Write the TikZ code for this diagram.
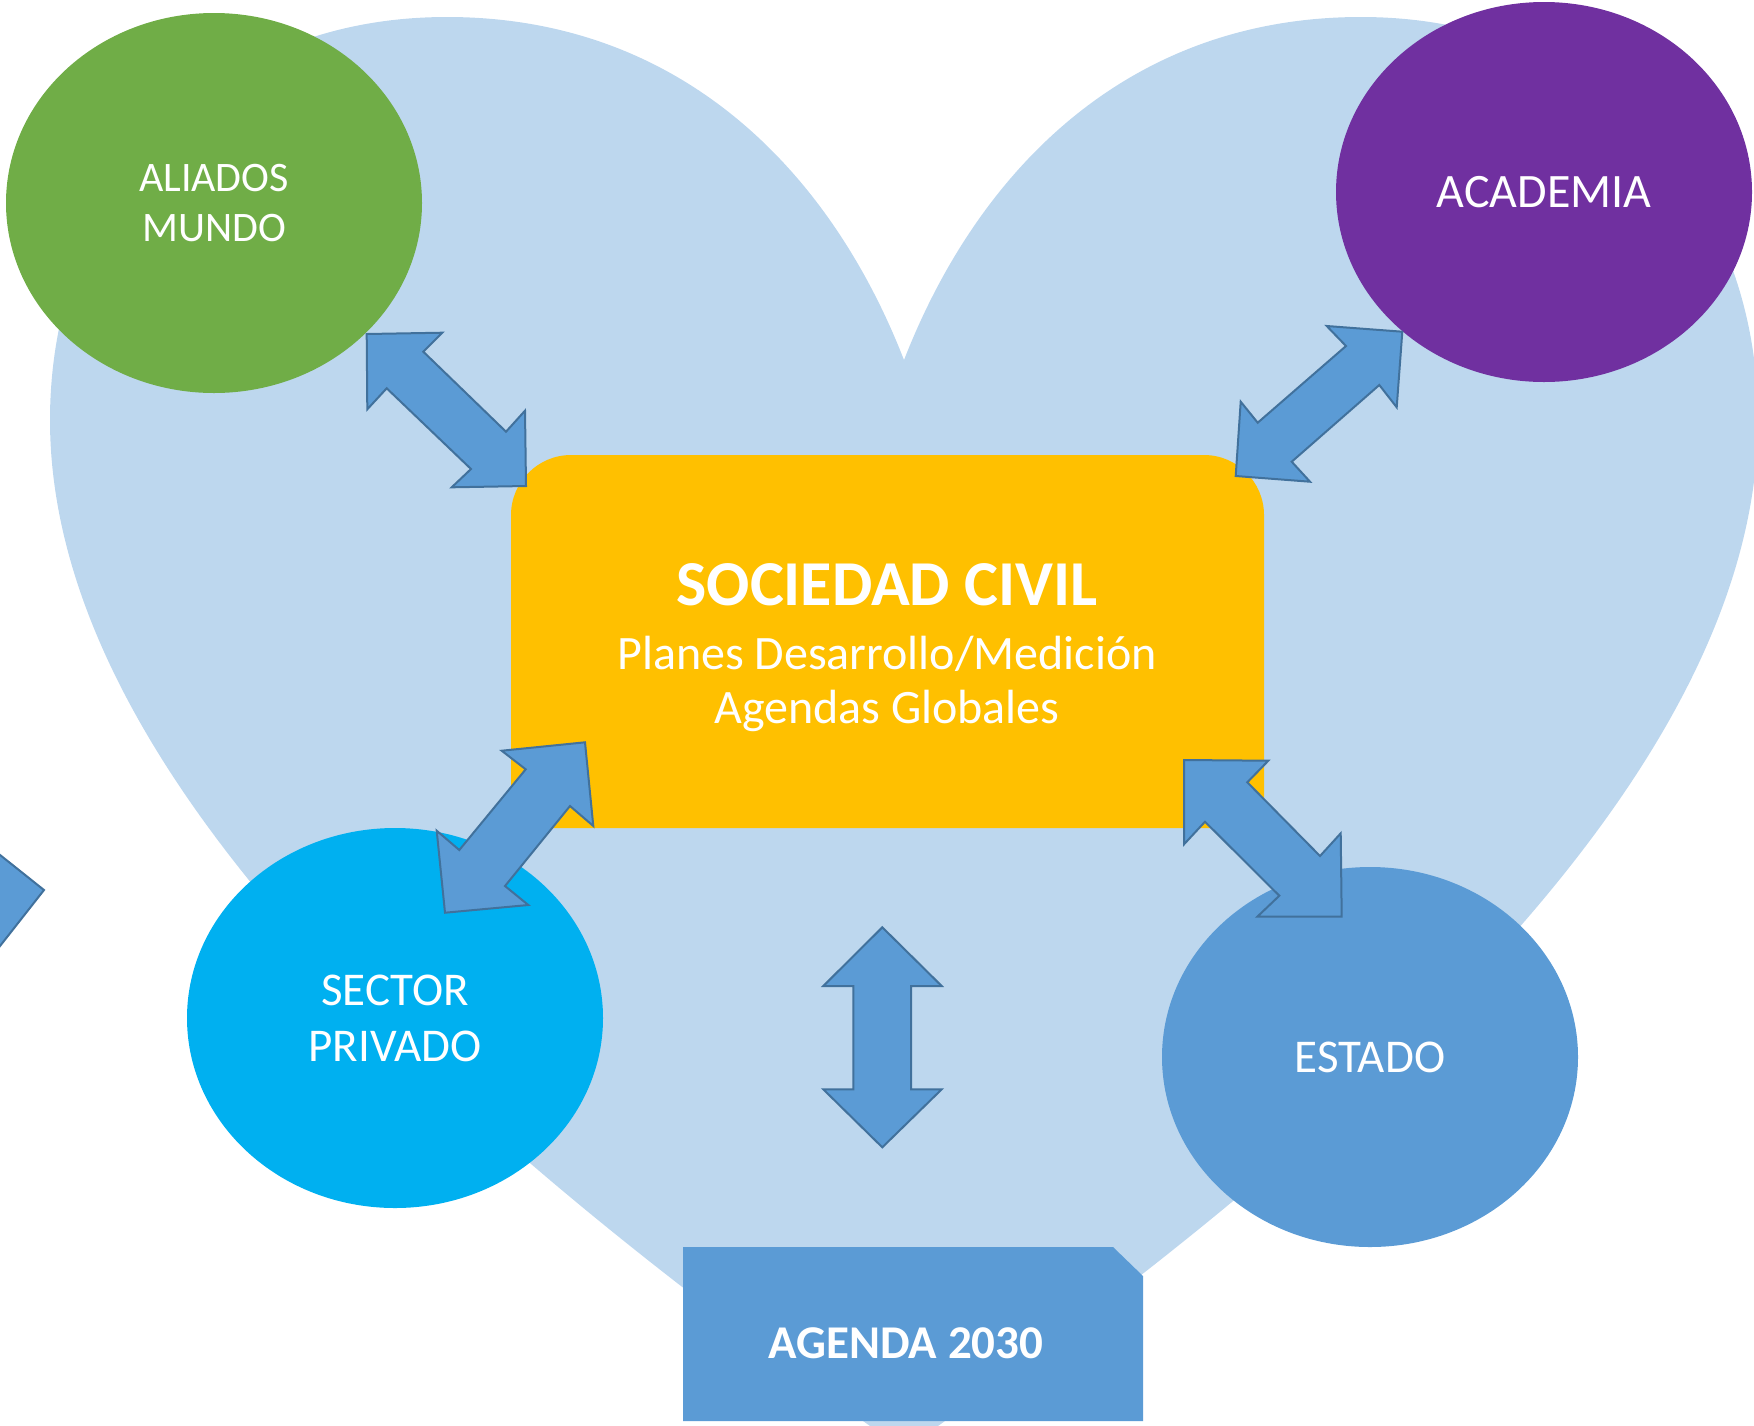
\documentclass[tikz,border=0pt]{standalone}
\usepackage{fontspec}
\setmainfont{Carlito}
\usetikzlibrary{shapes.geometric}
\definecolor{heartc}{RGB}{189,215,238}
\definecolor{greenc}{RGB}{112,173,71}
\definecolor{purplec}{RGB}{112,48,160}
\definecolor{cyanc}{RGB}{0,176,240}
\definecolor{bluec}{RGB}{91,155,213}
\definecolor{yellowc}{RGB}{255,192,0}
\definecolor{borderc}{RGB}{65,113,156}
\tikzset{
  circ/.style={ellipse, minimum width=208pt, minimum height=190pt, inner sep=0pt, text=white, align=center},
  blockarrow/.style={fill=bluec, draw=borderc, line width=1pt, line join=miter},
  lbl/.style={text=white, align=center, inner sep=0pt},
}
\begin{document}
\begin{tikzpicture}[x=0.5pt, y=-0.5pt]
\useasboundingbox (0,0) rectangle (1754,1425);
\clip (0,0) rectangle (1754,1425);
% heart
\fill[heartc] (904,360) .. controls (830,170) and (680,17) .. (447,17)
  .. controls (200,17) and (50,200) .. (50,420)
  .. controls (50,800) and (520,1180) .. (904,1450)
  .. controls (1288,1180) and (1758,800) .. (1758,420)
  .. controls (1758,200) and (1608,17) .. (1361,17)
  .. controls (1128,17) and (978,170) .. cycle;
% ellipses
\node[circ, fill=greenc, font=\fontsize{21}{25}\selectfont] (aliados) at (214,203) {ALIADOS\\MUNDO};
\node[circ, fill=purplec, font=\fontsize{24}{28}\selectfont] (academia) at (1544,192) {ACADEMIA};
\node[circ, fill=cyanc, font=\fontsize{23.5}{28}\selectfont] (privado) at (395,1018) {SECTOR\\PRIVADO};
\node[circ, fill=bluec, font=\fontsize{23.5}{28}\selectfont] (estado) at (1370,1057) {ESTADO};
% central box
\fill[yellowc] (511,828) -- (511,515) .. controls (511,482) and (538,455) .. (571,455)
  -- (1204,455) .. controls (1237,455) and (1264,482) .. (1264,515) -- (1264,828) -- cycle;
\node[lbl, anchor=base, font=\fontsize{32}{38}\selectfont\bfseries] (soc) at (887,605) {SOCIEDAD CIVIL};
\node[lbl, anchor=base, font=\fontsize{24}{28}\selectfont] (socplanes) at (887,669) {Planes Desarrollo/Medición};
\node[lbl, anchor=base, font=\fontsize{24}{28}\selectfont] (socagendas) at (887,723) {Agendas Globales};
% block arrows
\draw[blockarrow] (366.7,334) -- (442.3,332.7) -- (423.3,351.7) -- (506,431.7) -- (525,410.7)
  -- (526,486) -- (451.7,487.3) -- (471,469) -- (386.7,388.3) -- (367.3,409.3) -- cycle;
\draw[blockarrow] (1326.7,326) -- (1402.3,331.7) -- (1396.7,407.3) -- (1379.3,385) -- (1291.7,461.7)
  -- (1310,481.7) -- (1235.7,476) -- (1240.7,401.7) -- (1257.7,422.7) -- (1346,346) -- cycle;
\draw[blockarrow] (501.7,750.7) -- (585,742.3) -- (593.3,826) -- (570,806) -- (505,886)
  -- (528.3,905) -- (445,912.7) -- (436.7,830.7) -- (459.3,850) -- (525.7,769.3) -- cycle;
\draw[blockarrow] (1184,760) -- (1268.3,760.7) -- (1247.3,782.3) -- (1320,856) -- (1340.7,833.3)
  -- (1341.7,916.7) -- (1257.3,916.7) -- (1279.3,895.7) -- (1205,821.7) -- (1184,844.3) -- cycle;
\draw[blockarrow] (882.3,927.3) -- (941.7,986) -- (911,986) -- (911,1089.3) -- (941.7,1089.3)
  -- (882.3,1147.3) -- (823.3,1089.3) -- (853.3,1089.3) -- (853.3,986) -- (823.3,986) -- cycle;
\draw[blockarrow] (-20,839) -- (44,890) -- (-20,971.5) -- cycle;
% agenda box
\fill[bluec] (683,1247) -- (1113,1247) -- (1143,1276) -- (1143,1421) -- (683,1421) -- cycle;
\node[lbl, font=\fontsize{23.5}{28}\selectfont\bfseries] (agenda) at (906,1343) {AGENDA 2030};
\end{tikzpicture}
\end{document}
